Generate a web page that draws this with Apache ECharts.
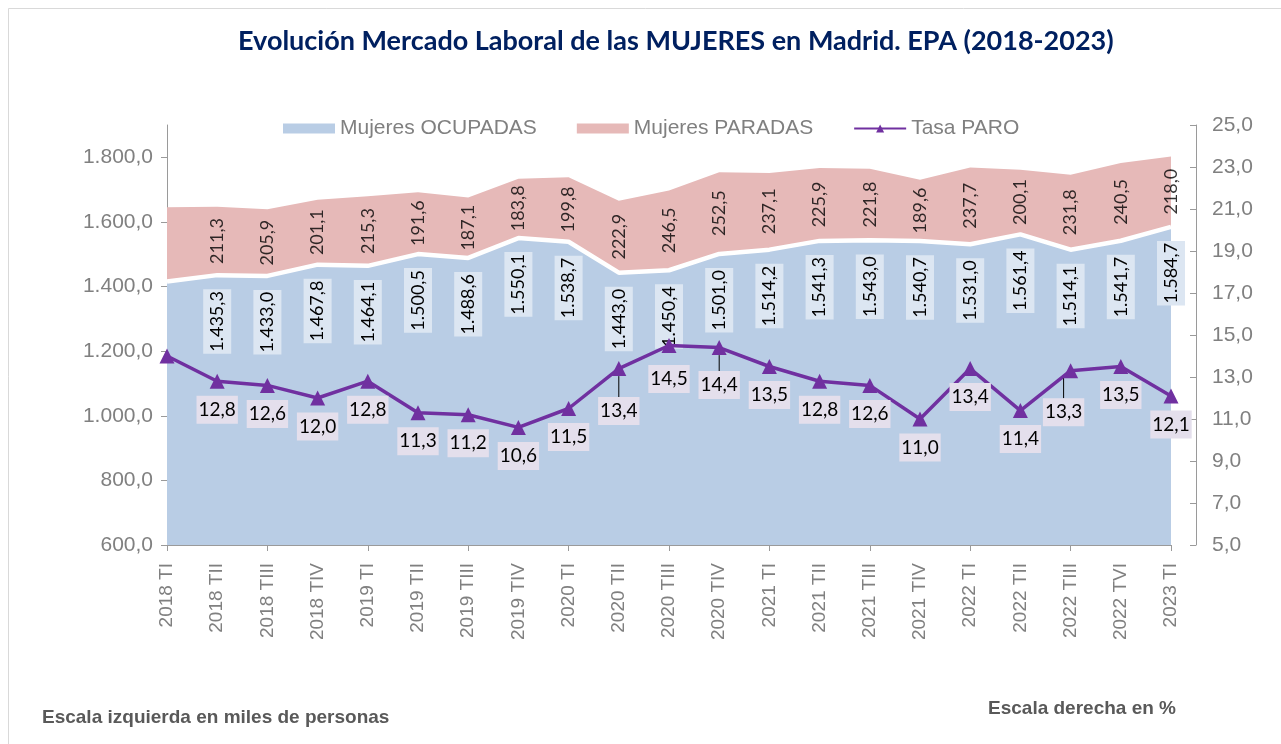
<!DOCTYPE html>
<html>
<head>
<meta charset="utf-8">
<script src="https://cdn.jsdelivr.net/npm/echarts@6/dist/echarts.min.js"></script>
<style>
  html, body { margin: 0; background: #fff; }
  #chart { width: 1281px; height: 744px; }
</style>
</head>
<body>
<div id="chart"></div>
<script>
// EPA Madrid, mujeres. Miles de personas (izq.) y tasa de paro en % (dcha.)
const CATEGORIES = [
  '2018 TI', '2018 TII', '2018 TIII', '2018 TIV',
  '2019 TI', '2019 TII', '2019 TIII', '2019 TIV',
  '2020 TI', '2020 TII', '2020 TIII', '2020 TIV',
  '2021 TI', '2021 TII', '2021 TIII', '2021 TIV',
  '2022 TI', '2022 TII', '2022 TIII', '2022 TVI',
  '2023 TI'
];
const OCUPADAS = [
  1415.5, 1435.3, 1433.0, 1467.8, 1464.1, 1500.5, 1488.6, 1550.1, 1538.7, 1443.0, 1450.4,
  1501.0, 1514.2, 1541.3, 1543.0, 1540.7, 1531.0, 1561.4, 1514.1, 1541.7, 1584.7
];
const PARADAS = [
  230.2, 211.3, 205.9, 201.1, 215.3, 191.6, 187.1, 183.8, 199.8, 222.9, 246.5,
  252.5, 237.1, 225.9, 221.8, 189.6, 237.7, 200.1, 231.8, 240.5, 218.0
];
const TASA = [
  14.0, 12.8, 12.6, 12.0, 12.8, 11.3, 11.2, 10.6, 11.5, 13.4, 14.5,
  14.4, 13.5, 12.8, 12.6, 11.0, 13.4, 11.4, 13.3, 13.5, 12.1
];
const LEFT_TICKS = [600, 800, 1000, 1200, 1400, 1600, 1800];
const RIGHT_TICKS = [5, 7, 9, 11, 13, 15, 17, 19, 21, 23, 25];

// labels of the rate that Excel pushed down, some with a leader line
const RATE_SHIFT = { 9: [0, 14], 10: [0, 5], 11: [0, 9], 18: [-7, 13] };
const RATE_LEADER = [9, 11, 18];

const AXIS_GREY = '#9a9a9a';
const TEXT_GREY = '#808080';

function fmtEs(v) {
  const parts = Number(v).toFixed(1).split('.');
  return parts[0].replace(/\B(?=(\d{3})+(?!\d))/g, '.') + ',' + parts[1];
}

const chart = echarts.init(document.getElementById('chart'), null, { renderer: 'canvas' });

chart.setOption({
  backgroundColor: '#fff',
  animation: false,
  title: {
    text: 'Evolución Mercado Laboral de las MUJERES en Madrid. EPA (2018-2023)',
    left: 233, top: 23,
    textStyle: { fontFamily: 'Lato', fontWeight: 'bold', fontSize: 27, color: '#002060' }
  },
  legend: {
    left: 278, top: 113,
    itemWidth: 52, itemHeight: 10, itemGap: 40,
    textStyle: { fontFamily: 'Liberation Sans', fontSize: 21, color: TEXT_GREY },
    data: [
      { name: 'Mujeres OCUPADAS', icon: 'rect', itemStyle: { color: '#b9cde5', borderWidth: 0 } },
      { name: 'Mujeres PARADAS', icon: 'rect', itemStyle: { color: '#e6b9b8', borderWidth: 0 } },
      { name: 'Tasa PARO' }
    ]
  },
  grid: { left: 167, right: 110, top: 125, bottom: 199 },
  xAxis: {
    type: 'category',
    data: CATEGORIES,
    boundaryGap: false,
    axisLine: { lineStyle: { color: AXIS_GREY, width: 1 } },
    axisTick: { interval: 1, length: 6, lineStyle: { color: AXIS_GREY } },
    axisLabel: {
      interval: 0, rotate: 90, margin: 18,
      fontFamily: 'Liberation Sans', fontSize: 19, color: TEXT_GREY
    },
    splitLine: { show: false }
  },
  yAxis: [
    {
      type: 'value', position: 'left', min: 600, max: 1900,
      axisLine: { show: true, lineStyle: { color: AXIS_GREY } },
      axisTick: { show: true, length: 6, customValues: LEFT_TICKS, lineStyle: { color: AXIS_GREY } },
      axisLabel: {
        customValues: LEFT_TICKS, margin: 14,
        fontFamily: 'Liberation Sans', fontSize: 21, color: TEXT_GREY,
        formatter: v => fmtEs(v)
      },
      splitLine: { show: false }
    },
    {
      type: 'value', position: 'right', offset: 25, min: 5, max: 25,
      axisLine: { show: true, lineStyle: { color: AXIS_GREY } },
      axisTick: { show: true, inside: true, length: 6, customValues: RIGHT_TICKS, lineStyle: { color: AXIS_GREY } },
      axisLabel: {
        customValues: RIGHT_TICKS, margin: 16,
        fontFamily: 'Liberation Sans', fontSize: 21, color: TEXT_GREY,
        formatter: v => fmtEs(v)
      },
      splitLine: { show: false }
    }
  ],
  series: [
    {
      name: 'Mujeres OCUPADAS',
      type: 'line',
      stack: 'total',
      z: 3,
      symbol: 'circle',
      symbolSize: 0.1,
      itemStyle: { color: '#b9cde5' },
      lineStyle: { color: '#ffffff', width: 4.5 },
      areaStyle: { color: '#b9cde5', opacity: 1 },
      label: {
        position: 'bottom', distance: 14, rotate: 90,
        align: 'right', verticalAlign: 'middle',
        fontFamily: 'Lato', fontSize: 18, lineHeight: 22, color: '#000',
        backgroundColor: '#dce6f2', padding: [3, 2],
        formatter: p => fmtEs(p.value)
      },
      emphasis: { disabled: true },
      data: OCUPADAS.map((v, i) => ({ value: v, label: { show: i > 0 } }))
    },
    {
      name: 'Mujeres PARADAS',
      type: 'line',
      stack: 'total',
      z: 2,
      symbol: 'none',
      itemStyle: { color: '#e6b9b8' },
      lineStyle: { width: 0 },
      areaStyle: { color: '#e6b9b8', opacity: 1 },
      emphasis: { disabled: true },
      data: PARADAS
    },
    {
      // carries the PARADAS labels in the middle of the pink band
      name: 'paradas-labels',
      type: 'scatter',
      z: 4,
      symbolSize: 0.1,
      itemStyle: { color: 'rgba(0,0,0,0)' },
      label: {
        position: 'inside', rotate: 90,
        align: 'center', verticalAlign: 'middle',
        fontFamily: 'Lato', fontSize: 18, color: '#000',
        formatter: p => fmtEs(PARADAS[p.dataIndex])
      },
      emphasis: { disabled: true },
      data: PARADAS.map((v, i) => ({ value: [i, OCUPADAS[i] + v / 2], label: { show: i > 0 } }))
    },
    {
      name: 'Tasa PARO',
      type: 'line',
      yAxisIndex: 1,
      z: 5,
      symbol: 'triangle',
      symbolSize: 15,
      itemStyle: { color: '#7030a0' },
      lineStyle: { color: '#7030a0', width: 3.5 },
      label: {
        position: 'bottom', distance: 7,
        fontFamily: 'Lato', fontSize: 19, lineHeight: 22, color: '#000',
        backgroundColor: '#e4dfec', padding: [3, 2],
        formatter: p => fmtEs(p.value)
      },
      labelLine: { show: false, lineStyle: { color: '#000', width: 1 } },
      labelLayout: p => {
        const s = RATE_SHIFT[p.dataIndex];
        return s ? { dx: s[0], dy: s[1] } : {};
      },
      emphasis: { disabled: true },
      data: TASA.map((v, i) => ({
        value: v,
        label: { show: i > 0 },
        labelLine: { show: RATE_LEADER.indexOf(i) >= 0 }
      }))
    }
  ],
  graphic: [
    {
      type: 'rect', left: 6, top: 6, silent: true,
      shape: { width: 1400, height: 900 },
      style: { fill: 'none', stroke: '#d9d9d9', lineWidth: 1 }
    },
    {
      type: 'text', left: 42, top: 708, silent: true,
      style: { text: 'Escala izquierda en miles de personas', font: 'bold 19px "Liberation Sans"', fill: '#595959' }
    },
    {
      type: 'text', right: 105, top: 699, silent: true,
      style: { text: 'Escala derecha en %', font: 'bold 19px "Liberation Sans"', fill: '#595959' }
    }
  ]
});
</script>
</body>
</html>
